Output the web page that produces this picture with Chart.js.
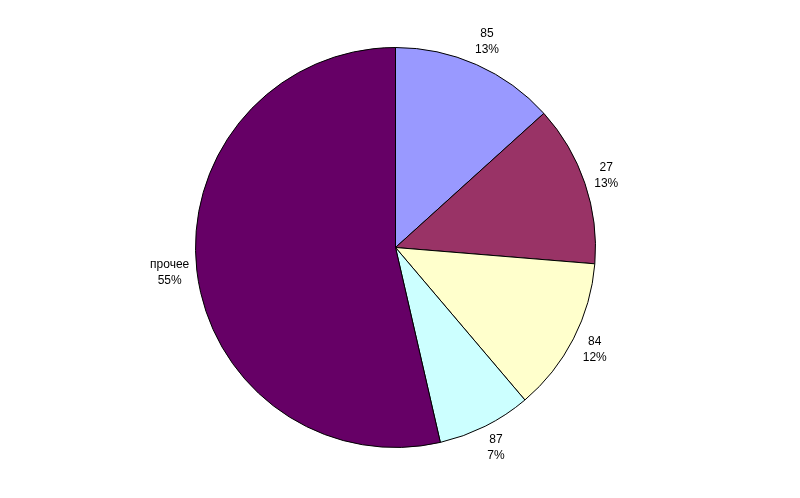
<!DOCTYPE html>
<html>
<head>
<meta charset="utf-8">
<script src="https://cdn.jsdelivr.net/npm/chart.js@4/dist/chart.umd.min.js"></script>
<style>
html,body{margin:0;padding:0;background:#fff;}
canvas{display:block;}
</style>
</head>
<body>
<canvas id="c" width="800" height="498"></canvas>
<script>
const categories = ["85", "27", "84", "87", "прочее"];
const values = [13.3, 13.0, 12.5, 7.6, 53.6];
const percentLabels = ["13%", "13%", "12%", "7%", "55%"];
const colors = ["#9999FF", "#993366", "#FFFFCC", "#CCFFFF", "#660066"];

const labelPlugin = {
  id: 'outLabels',
  afterDatasetsDraw(chart) {
    const ctx = chart.ctx;
    const meta = chart.getDatasetMeta(0);
    ctx.save();
    ctx.font = '12px "Liberation Sans", Arial, sans-serif';
    ctx.fillStyle = '#000';
    ctx.textAlign = 'center';
    ctx.textBaseline = 'middle';
    const lh = 16;
    meta.data.forEach((arc, i) => {
      const p = arc.getProps(['x','y','startAngle','endAngle','outerRadius']);
      const mid = (p.startAngle + p.endAngle) / 2;
      const dx = Math.cos(mid), dy = Math.sin(mid);
      const lines = [categories[i], percentLabels[i]];
      const w = Math.max(...lines.map(t => ctx.measureText(t).width));
      const h = lh * lines.length;
      const ext = Math.abs(dx) * w / 2 + Math.abs(dy) * h / 2;
      const d = p.outerRadius + 6 + ext;
      const cx = p.x + dx * d, cy = p.y + dy * d;
      lines.forEach((t, k) => {
        ctx.fillText(t, cx, cy - h / 2 + lh / 2 + k * lh);
      });
    });
    ctx.restore();
  }
};

new Chart(document.getElementById('c'), {
  type: 'pie',
  data: {
    labels: categories,
    datasets: [{
      data: values,
      backgroundColor: colors,
      borderColor: '#000',
      borderWidth: 1
    }]
  },
  options: {
    responsive: false,
    animation: false,
    layout: { padding: { top: 47, bottom: 50, left: 195, right: 204 } },
    plugins: { legend: { display: false }, tooltip: { enabled: false } }
  },
  plugins: [labelPlugin]
});
</script>
</body>
</html>
